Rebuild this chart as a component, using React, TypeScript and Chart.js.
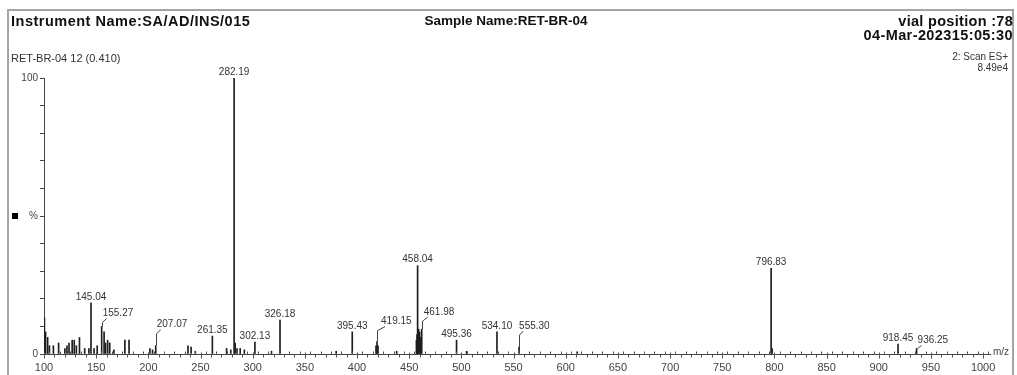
import React, { useEffect, useRef } from 'react';
import { Chart, registerables } from 'chart.js';

Chart.register(...registerables);

// ---- data ----
const labeledMz = [145.04, 155.27, 207.07, 261.35, 282.19, 302.13, 326.18, 395.43, 419.15, 458.04, 461.98, 495.36, 534.1, 555.3, 796.83, 918.45, 936.25];
const labeledIntensity = [18.5, 10, 3, 6.5, 100, 4.3, 12.3, 8, 4.5, 32, 9, 5, 8, 2.5, 31, 3.6, 2];

const minorMz = [100.4, 101.5, 103.5, 105.2, 109, 114, 120, 122, 124, 127, 129, 131, 134, 139, 143, 148, 151, 157.6, 159, 161, 163, 167, 177.5, 181.5, 201.5, 204, 238, 241, 245, 275, 279, 283.2, 285, 288, 292, 318, 380, 418.2, 420.1, 438, 456.9, 457.5, 459, 460, 461, 505, 611, 797.8];
const minorIntensity = [13, 8, 6, 3, 3, 4, 2, 3, 4, 5, 5, 3, 6, 2, 2, 2, 3, 8, 4, 5, 4, 1.5, 5, 5, 2, 1.5, 3, 2.5, 1, 2, 1.5, 4, 2, 2, 1.5, 1, 1, 3, 3, 1, 5, 7, 9, 8, 6, 1, 0.8, 2];

const xMin = 100;
const xMax = 1006.6;
const xLabelStep = 50;
const xMinorStep = 5;
const yLabelValues = [0, 50, 100];

// label layout for labels drawn with a leader line: [dx from peak, dy of label centre from peak top]
const leaderLayout: Record<string, [number, number]> = {
  '155.27': [1, -13],
  '207.07': [1, -21],
  '419.15': [4, -20],
  '461.98': [2, -17],
  '555.30': [0, -21],
  '936.25': [1, -8],
};

const FONT = '"Liberation Sans", Arial, sans-serif';

const peakLabelPlugin = {
  id: 'peakLabels',
  afterDatasetsDraw(chart: any) {
    const { ctx, scales } = chart;
    const x = scales.x;
    const y = scales.y;
    ctx.save();
    ctx.font = `10px ${FONT}`;
    ctx.fillStyle = '#333';
    ctx.strokeStyle = '#444';
    ctx.lineWidth = 1;
    labeledMz.forEach((mz, i) => {
      const px = x.getPixelForValue(mz);
      const top = y.getPixelForValue(labeledIntensity[i]);
      const text = mz.toFixed(2);
      const lead = leaderLayout[text];
      if (lead) {
        const [lx, ly] = lead;
        const cy = top + ly;
        ctx.textAlign = 'left';
        ctx.textBaseline = 'middle';
        ctx.fillText(text, px + lx, cy);
        const vy = Math.min(top, cy + 9);
        ctx.beginPath();
        ctx.moveTo(Math.round(px) + 0.5, top);
        ctx.lineTo(Math.round(px) + 0.5, vy);
        ctx.lineTo(px + lx + 4, cy + 5);
        ctx.stroke();
      } else {
        ctx.textAlign = 'center';
        ctx.textBaseline = 'bottom';
        ctx.fillText(text, px, top - 1);
      }
    });
    ctx.restore();
  },
};

const axisDecorPlugin = {
  id: 'axisDecor',
  afterDraw(chart: any) {
    const { ctx, chartArea, scales } = chart;
    const x = scales.x;
    ctx.save();
    ctx.strokeStyle = '#555';
    ctx.lineWidth = 1;
    const b = Math.round(chartArea.bottom) + 0.5;
    for (let v = xMin; v <= xMax; v += xMinorStep) {
      const px = Math.round(x.getPixelForValue(v)) + 0.5;
      ctx.beginPath();
      if (v % xLabelStep === 0) {
        ctx.moveTo(px, b - 2);
        ctx.lineTo(px, b + 4);
      } else if (v % 10 === 0) {
        ctx.moveTo(px, b);
        ctx.lineTo(px, b + 3);
      } else {
        ctx.moveTo(px, b);
        ctx.lineTo(px, b - 3);
      }
      ctx.stroke();
    }
    ctx.fillStyle = '#444';
    ctx.font = `10px ${FONT}`;
    ctx.textAlign = 'left';
    ctx.textBaseline = 'middle';
    ctx.fillText('m/z', chartArea.right + 3, chartArea.bottom - 2);
    // small marker left of the % label
    ctx.fillStyle = '#000';
    const my = scales.y.getPixelForValue(50);
    ctx.fillRect(12, Math.round(my) - 3, 6, 6);
    ctx.restore();
  },
};

function App() {
  const ref = useRef<HTMLCanvasElement | null>(null);

  useEffect(() => {
    if (!ref.current) return;
    const data = [
      ...labeledMz.map((m, i) => ({ x: m, y: labeledIntensity[i] })),
      ...minorMz.map((m, i) => ({ x: m, y: minorIntensity[i] })),
    ];
    const chart = new Chart(ref.current, {
      type: 'bar',
      data: {
        datasets: [
          {
            data,
            backgroundColor: '#1e1e1e',
            borderWidth: 0,
            barThickness: 1,
            grouped: false,
          } as any,
        ],
      },
      options: {
        animation: false,
        responsive: false,
        events: [],
        layout: { padding: { left: 8, right: 27, top: 78, bottom: 0 } },
        plugins: { legend: { display: false }, tooltip: { enabled: false }, title: { display: false } },
        scales: {
          x: {
            type: 'linear',
            min: xMin,
            max: xMax,
            offset: false,
            grid: { display: false, drawTicks: false },
            border: { display: true, color: '#444', width: 1 },
            ticks: {
              stepSize: xMinorStep,
              autoSkip: false,
              maxRotation: 0,
              padding: 7,
              color: '#444',
              font: { family: FONT, size: 11 },
              callback: (v: any) => (Number(v) % xLabelStep === 0 ? String(v) : ''),
            },
            afterFit: (s: any) => {
              s.height = 21;
            },
          },
          y: {
            type: 'linear',
            min: 0,
            max: 100,
            grid: { drawOnChartArea: false, drawTicks: true, tickLength: 4, color: '#444' },
            border: { display: true, color: '#444', width: 1 },
            ticks: {
              stepSize: 10,
              autoSkip: false,
              padding: 2,
              color: '#444',
              font: { family: FONT, size: 10 },
              callback: (v: any) => {
                const n = Number(v);
                if (!yLabelValues.includes(n)) return '';
                return n === 50 ? '%' : String(n);
              },
            },
            afterFit: (s: any) => {
              s.width = 36;
            },
          },
        },
      },
      plugins: [peakLabelPlugin, axisDecorPlugin],
    });
    return () => chart.destroy();
  }, []);

  const txt = (style: React.CSSProperties, content: string, size: number, bold = false) => (
    <div
      style={{
        position: 'absolute',
        fontFamily: FONT,
        fontSize: size,
        lineHeight: `${size}px`,
        fontWeight: bold ? 'bold' : 'normal',
        whiteSpace: 'nowrap',
        color: bold ? '#111' : '#333',
        ...style,
      }}
    >
      {content}
    </div>
  );

  return (
    <div
      style={{
        position: 'absolute',
        left: 0,
        top: 0,
        width: 1017,
        height: 375,
        background: '#fff',
        overflow: 'hidden',
      }}
    >
      <div
        style={{
          position: 'absolute',
          left: 7,
          top: 9,
          width: 1007,
          height: 420,
          boxSizing: 'border-box',
          border: '2px solid #a4a4a4',
        }}
      />
      <canvas ref={ref} width={1017} height={375} style={{ position: 'absolute', left: 0, top: 0 }} />
      {txt({ left: 11, top: 14, letterSpacing: 0.5 }, 'Instrument Name:SA/AD/INS/015', 14.5, true)}
      {txt({ left: 0, width: 1012, top: 14, textAlign: 'center', fontSize: 13.5 }, 'Sample Name:RET-BR-04', 14.5, true)}
      {txt({ right: 4, top: 14, textAlign: 'right', letterSpacing: 0.3 }, 'vial position :78', 14.5, true)}
      {txt({ right: 4, top: 27.5, textAlign: 'right', letterSpacing: 0.4 }, '04-Mar-202315:05:30', 14.5, true)}
      {txt({ left: 11, top: 52.7 }, 'RET-BR-04 12 (0.410)', 11)}
      {txt({ right: 9, top: 51.5, textAlign: 'right' }, '2: Scan ES+', 10)}
      {txt({ right: 9, top: 62.5, textAlign: 'right' }, '8.49e4', 10)}
    </div>
  );
}

export default App;
